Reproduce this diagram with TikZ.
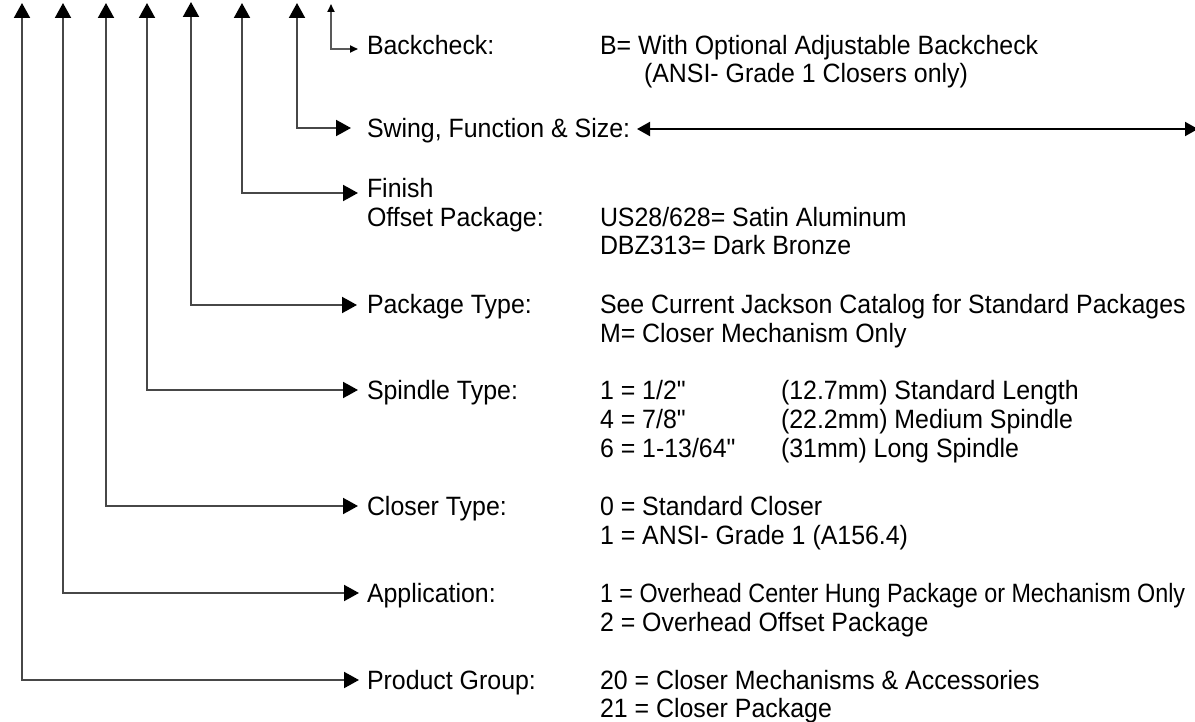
\documentclass[tikz,border=0pt]{standalone}
\usepackage{fontspec}
\setmainfont[FakeStretch=0.94]{Liberation Sans}
\newfontfamily\condfont[FakeStretch=0.88]{Liberation Sans}
\usetikzlibrary{arrows.meta}
\newcommand{\inch}{\XeTeXglyph\XeTeXcharglyph"22\relax}
\begin{document}
\begin{tikzpicture}[x=1pt,y=-1pt,
  lbl/.style={anchor=base west,inner sep=0pt,outer sep=0pt,font=\fontsize{26.5}{28}\selectfont},
  conn/.style={draw=black!72,line width=2pt,{Triangle[length=15pt,width=16pt,color=black]}-{Triangle[length=15pt,width=16pt,color=black]}},
  smallconn/.style={draw=black!65,line width=1.8pt,{Triangle[length=8pt,width=7pt,color=black]}-{Triangle[length=8pt,width=7pt,color=black]}},
  swingconn/.style={draw=black,line width=2pt,{Triangle[length=13pt,width=14pt,color=black]}-{Triangle[length=13pt,width=14pt,color=black]}}
]
\useasboundingbox (0,0) rectangle (1195,722);
\fill[white] (0,0) rectangle (1195,722);

% top tips of the vertical leaders
\coordinate (t1) at (22,3);
\coordinate (t2) at (63,3);
\coordinate (t3) at (106,3);
\coordinate (t4) at (147,3);
\coordinate (t5) at (191,2);
\coordinate (t6) at (242,3);
\coordinate (t7) at (297,3);
\coordinate (t8) at (331,4);

% arrow ends at labels
\coordinate (a8) at (358,49);
\coordinate (a7) at (351,128);
\coordinate (a6) at (358,193);
\coordinate (a5) at (357,305);
\coordinate (a4) at (358,390);
\coordinate (a3) at (358,506);
\coordinate (a2) at (359,593);
\coordinate (a1) at (359,680);

% labels
\node[lbl] (lback) at (367,55) {Backcheck:};
\node[lbl] (vback1) at (600,55) {B= With Optional Adjustable Backcheck};
\node[lbl] (vback2) at (644,83) {(ANSI- Grade 1 Closers only)};

\node[lbl] (lswing) at (367,138) {Swing, Function \& Size:};
\coordinate (sw1) at (637,129);
\coordinate (sw2) at (1198,129);

\node[lbl] (lfin1) at (367,198) {Finish};
\node[lbl] (lfin2) at (367,227) {Offset Package:};
\node[lbl] (vfin1) at (600,227) {US28/628= Satin Aluminum};
\node[lbl] (vfin2) at (600,255) {DBZ313= Dark Bronze};

\node[lbl] (lpack) at (367,313) {Package Type:};
\node[lbl] (vpack1) at (600,313) {See Current Jackson Catalog for Standard Packages};
\node[lbl] (vpack2) at (600,342) {M= Closer Mechanism Only};

\node[lbl] (lspin) at (367,399) {Spindle Type:};
\node[lbl] (vspin1) at (600,399) {1 = 1/2\inch};
\node[lbl] (vspin2) at (600,428) {4 = 7/8\inch};
\node[lbl] (vspin3) at (600,457) {6 = 1-13/64\inch};
\node[lbl] (wspin1) at (781,399) {(12.7mm) Standard Length};
\node[lbl] (wspin2) at (781,428) {(22.2mm) Medium Spindle};
\node[lbl] (wspin3) at (781,457) {(31mm) Long Spindle};

\node[lbl] (lclose) at (367,515) {Closer Type:};
\node[lbl] (vclose1) at (600,515) {0 = Standard Closer};
\node[lbl] (vclose2) at (600,544) {1 = ANSI- Grade 1 (A156.4)};

\node[lbl] (lapp) at (367,602) {Application:};
\node[lbl,font=\fontsize{26.5}{28}\condfont] (vapp1) at (600,602) {1 = Overhead Center Hung Package or Mechanism Only};
\node[lbl] (vapp2) at (600,631) {2 = Overhead Offset Package};

\node[lbl] (lprod) at (367,689) {Product Group:};
\node[lbl] (vprod1) at (600,689) {20 = Closer Mechanisms \& Accessories};
\node[lbl] (vprod2) at (600,717) {21 = Closer Package};

% connectors
\draw[smallconn] (t8) |- (a8);
\draw[conn] (t7) |- (a7);
\draw[conn] (t6) |- (a6);
\draw[conn] (t5) |- (a5);
\draw[conn] (t4) |- (a4);
\draw[conn] (t3) |- (a3);
\draw[conn] (t2) |- (a2);
\draw[conn] (t1) |- (a1);
\draw[swingconn] (sw1) -- (sw2);
\end{tikzpicture}
\end{document}
